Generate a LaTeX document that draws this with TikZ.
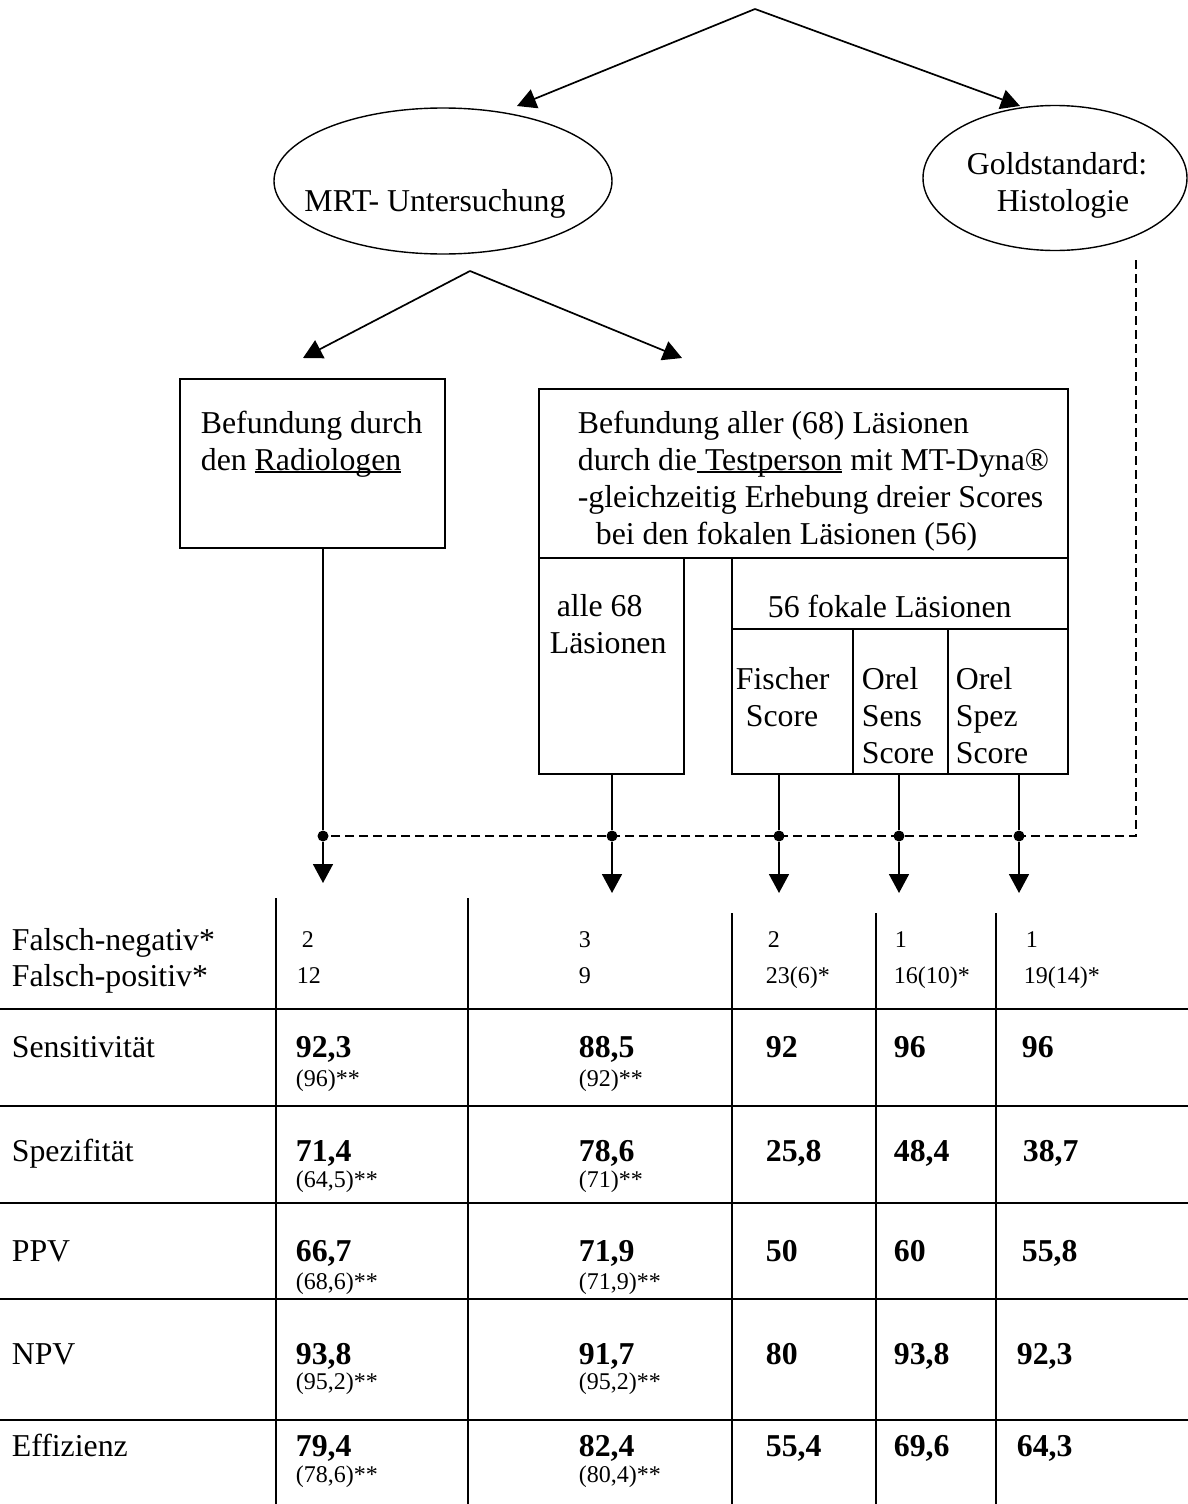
\documentclass[tikz,border=0pt]{standalone}
\usepackage{fontspec}
\setmainfont{Liberation Serif}
\usepackage{tikz}
\usetikzlibrary{shapes.geometric,arrows.meta}

\newcommand\undertext[1]{\setbox0\hbox{#1}\rlap{\rule[-3pt]{\wd0}{1.8pt}}\box0\relax}

\tikzset{
    oval/.style={draw, ellipse, inner sep=0pt, line width=1.4pt},
    frame/.style={draw, rectangle, inner sep=0pt},
    txt/.style={inner sep=0pt, align=left},
    lab/.style={inner sep=0pt, anchor=base west},
    val/.style={inner sep=0pt, anchor=base west, font=\fontsize{31.8}{37}\selectfont\bfseries},
    small/.style={inner sep=0pt, anchor=base west, font=\fontsize{24}{28}\selectfont},
    dot/.style={circle, fill, inner sep=0pt, minimum size=11pt},
    arr/.style={-{Triangle[length=19pt,width=20pt]}},
    dashline/.style={dash pattern=on 9pt off 5pt},
}

\begin{document}
\begin{tikzpicture}[x=1pt, y=-1pt, line width=1.7pt, font=\fontsize{31.8}{37}\selectfont]
        \useasboundingbox (0,0) rectangle (1188,1504);

        \coordinate (apex) at (755,9);
        \coordinate (mrtin) at (517,106);
        \coordinate (goldin) at (1020,106);
        \node[oval, minimum width=338pt, minimum height=146pt] (mrt) at (443,181) {};
        \node[lab, anchor=base] (mrtlabel) at (435,211) {MRT- Untersuchung};
        \node[oval, minimum width=264pt, minimum height=145pt] (gold) at (1055,178) {};
        \node[txt, align=center, anchor=north] (goldlabel) at (1057,152) {Goldstandard:\\\hspace*{12pt}Histologie};

        \coordinate (fork) at (470,271);
        \coordinate (radin) at (303,358);
        \coordinate (testin) at (682,358);

        \node[frame, minimum width=265pt, minimum height=169pt] (radbox) at (312.5,463.5) {};
        \node[txt, anchor=north west] (radtext) at (200,410) {Befundung durch\\den \undertext{Radiologen}};
        \node[frame, minimum width=529pt, minimum height=169pt] (testbox) at (803.5,473.5) {};
        \node[txt, anchor=north west] (testtext) at (577,410) {Befundung aller (68) Läsionen\\durch die\undertext{\ Testperson} mit MT-Dyna®\\-gleichzeitig Erhebung dreier Scores\\\hspace*{18pt}bei den fokalen Läsionen (56)};
        \node[frame, minimum width=145pt, minimum height=216pt] (allebox) at (611.5,666) {};
        \node[txt, anchor=north west] (alletext) at (549,594) {\hspace*{7pt}alle 68\\Läsionen};
        \node[frame, minimum width=336pt, minimum height=71pt] (fokalbox) at (900,593.5) {};
        \node[txt, anchor=north west] (fokaltext) at (767,594) {56 fokale Läsionen};
        \node[frame, minimum width=121pt, minimum height=145pt] (fischerbox) at (792.5,701.5) {};
        \node[txt, anchor=north west] (fischertext) at (735,667) {Fischer\\\hspace*{10pt}Score};
        \node[frame, minimum width=95pt, minimum height=145pt] (sensbox) at (900.5,701.5) {};
        \node[txt, anchor=north west] (senstext) at (861,667) {Orel\\Sens\\Score};
        \node[frame, minimum width=120pt, minimum height=145pt] (spezbox) at (1008,701.5) {};
        \node[txt, anchor=north west] (speztext) at (955,667) {Orel\\Spez\\Score};

        \node[dot] (j1) at (323,836) {};
        \node[dot] (j2) at (612,836) {};
        \node[dot] (j3) at (779,836) {};
        \node[dot] (j4) at (899,836) {};
        \node[dot] (j5) at (1019,836) {};
        \coordinate (e1) at (323,883);
        \coordinate (e2) at (612,893);
        \coordinate (e3) at (779,893);
        \coordinate (e4) at (899,893);
        \coordinate (e5) at (1019,893);
        \coordinate (histo) at (1136,260);
        \coordinate (corner) at (1136,836);

        \draw[arr] (apex) -- (mrtin);
        \draw[arr] (apex) -- (goldin);
        \draw[arr] (fork) -- (radin);
        \draw[arr] (fork) -- (testin);
        \draw (radbox.south -| j1) -- (j1);
        \draw (allebox.south -| j2) -- (j2);
        \draw (fischerbox.south -| j3) -- (j3);
        \draw (sensbox.south -| j4) -- (j4);
        \draw (spezbox.south -| j5) -- (j5);
        \draw[dashline] (histo) -- (corner) -- (j1);
        \draw[arr] (j1) -- (e1);
        \draw[arr] (j2) -- (e2);
        \draw[arr] (j3) -- (e3);
        \draw[arr] (j4) -- (e4);
        \draw[arr] (j5) -- (e5);

        \draw (0,1009) -- (1188,1009);
        \draw (0,1106) -- (1188,1106);
        \draw (0,1203) -- (1188,1203);
        \draw (0,1299) -- (1188,1299);
        \draw (0,1420) -- (1188,1420);
        \draw (276,898) -- (276,1504);
        \draw (468,898) -- (468,1504);
        \draw (732,913) -- (732,1504);
        \draw (876,913) -- (876,1504);
        \draw (996,913) -- (996,1504);

        \node[lab] (lfn) at (11,950) {Falsch-negativ*};
        \node[lab] (lfp) at (11,986) {Falsch-positiv*};
        \node[lab] (lsens) at (11,1057) {Sensitivität};
        \node[lab] (lspez) at (11,1161) {Spezifität};
        \node[lab] (lppv) at (11,1261) {PPV};
        \node[lab] (lnpv) at (11,1364) {NPV};
        \node[lab] (leff) at (11,1456) {Effizienz};

        \node[small] (fn1) at (301,947) {2};
        \node[small] (fn2) at (578,947) {3};
        \node[small] (fn3) at (767,947) {2};
        \node[small] (fn4) at (894,947) {1};
        \node[small] (fn5) at (1025,947) {1};
        \node[small] (fp1) at (296,983) {12};
        \node[small] (fp2) at (578,983) {9};
        \node[small] (fp3) at (765,983) {23(6)*};
        \node[small] (fp4) at (893,983) {16(10)*};
        \node[small] (fp5) at (1023,983) {19(14)*};

        \node[val] (sens1) at (295,1057) {92,3};
        \node[val] (sens2) at (578,1057) {88,5};
        \node[val] (sens3) at (765,1057) {92};
        \node[val] (sens4) at (893,1057) {96};
        \node[val] (sens5) at (1021,1057) {96};
        \node[small] (ssens1) at (295,1086) {(96)**};
        \node[small] (ssens2) at (578,1086) {(92)**};

        \node[val] (spez1) at (295,1161) {71,4};
        \node[val] (spez2) at (578,1161) {78,6};
        \node[val] (spez3) at (765,1161) {25,8};
        \node[val] (spez4) at (893,1161) {48,4};
        \node[val] (spez5) at (1022,1161) {38,7};
        \node[small] (sspez1) at (295,1187) {(64,5)**};
        \node[small] (sspez2) at (578,1187) {(71)**};

        \node[val] (ppv1) at (295,1261) {66,7};
        \node[val] (ppv2) at (578,1261) {71,9};
        \node[val] (ppv3) at (765,1261) {50};
        \node[val] (ppv4) at (893,1261) {60};
        \node[val] (ppv5) at (1021,1261) {55,8};
        \node[small] (sppv1) at (295,1289) {(68,6)**};
        \node[small] (sppv2) at (578,1289) {(71,9)**};

        \node[val] (npv1) at (295,1364) {93,8};
        \node[val] (npv2) at (578,1364) {91,7};
        \node[val] (npv3) at (765,1364) {80};
        \node[val] (npv4) at (893,1364) {93,8};
        \node[val] (npv5) at (1016,1364) {92,3};
        \node[small] (snpv1) at (295,1389) {(95,2)**};
        \node[small] (snpv2) at (578,1389) {(95,2)**};

        \node[val] (eff1) at (295,1456) {79,4};
        \node[val] (eff2) at (578,1456) {82,4};
        \node[val] (eff3) at (765,1456) {55,4};
        \node[val] (eff4) at (893,1456) {69,6};
        \node[val] (eff5) at (1016,1456) {64,3};
        \node[small] (seff1) at (295,1482) {(78,6)**};
        \node[small] (seff2) at (578,1482) {(80,4)**};
\end{tikzpicture}
\end{document}
